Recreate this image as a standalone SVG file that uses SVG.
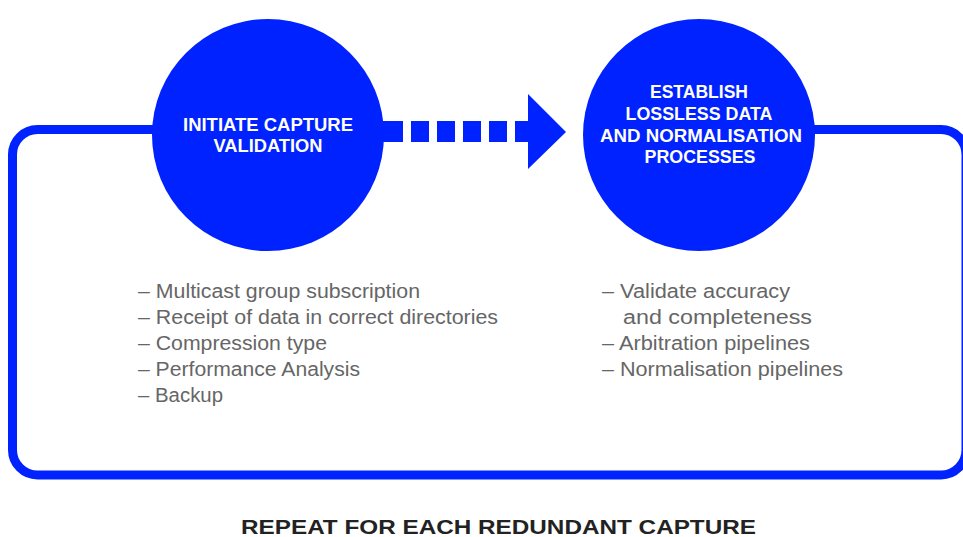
<svg xmlns="http://www.w3.org/2000/svg" width="963" height="537" viewBox="0 0 963 537">
<style>
.blue{fill:#0022ff}
.title{font-family:"Liberation Sans",Arial,sans-serif;font-weight:bold;font-size:17.5px;fill:#ffffff;text-anchor:middle}
.item{font-family:"Liberation Sans",Arial,sans-serif;font-size:19.5px;fill:#666666}
.foot{font-family:"Liberation Sans",Arial,sans-serif;font-weight:bold;font-size:20px;fill:#222222;text-anchor:middle}
</style>
<rect width="963" height="537" fill="#ffffff"/>
<g id="connectors">
<path id="loop" d="M 200 129.5 H 37.5 A 25 25 0 0 0 12.5 154.5 V 450 A 25 25 0 0 0 37.5 475 H 941 A 25 25 0 0 0 966 450 V 154.5 A 25 25 0 0 0 941 129.5 H 750" fill="none" stroke="#0022ff" stroke-width="9"/>
<g id="arrow" class="blue">
<rect x="370" y="121" width="33" height="21"/>
<rect x="411" y="121" width="18" height="21"/>
<rect x="437" y="121" width="18" height="21"/>
<rect x="463" y="121" width="18" height="21"/>
<rect x="489" y="121" width="18" height="21"/>
<polygon points="515,121 528,121 528,94 566,132 528,169 528,142 515,142"/>
</g>
</g>
<g id="node-initiate">
<circle cx="268" cy="135" r="116" class="blue"/>
<text class="title" x="268" y="131" textLength="170" lengthAdjust="spacingAndGlyphs">INITIATE CAPTURE</text>
<text class="title" x="268" y="152" textLength="109" lengthAdjust="spacingAndGlyphs">VALIDATION</text>
</g>
<g id="node-establish">
<circle cx="699" cy="135" r="116" class="blue"/>
<text class="title" x="699" y="98" textLength="98" lengthAdjust="spacingAndGlyphs">ESTABLISH</text>
<text class="title" x="699" y="120" textLength="147" lengthAdjust="spacingAndGlyphs">LOSSLESS DATA</text>
<text class="title" x="701" y="142" textLength="202" lengthAdjust="spacingAndGlyphs">AND NORMALISATION</text>
<text class="title" x="700" y="163" textLength="111" lengthAdjust="spacingAndGlyphs">PROCESSES</text>
</g>
<g id="list-initiate">
<text class="item" x="138" y="298" textLength="282" lengthAdjust="spacingAndGlyphs">– Multicast group subscription</text>
<text class="item" x="138" y="324" textLength="360" lengthAdjust="spacingAndGlyphs">– Receipt of data in correct directories</text>
<text class="item" x="138" y="350" textLength="189" lengthAdjust="spacingAndGlyphs">– Compression type</text>
<text class="item" x="138" y="376" textLength="222" lengthAdjust="spacingAndGlyphs">– Performance Analysis</text>
<text class="item" x="138" y="402" textLength="85" lengthAdjust="spacingAndGlyphs">– Backup</text>
</g>
<g id="list-establish">
<text class="item" x="602" y="298" textLength="188" lengthAdjust="spacingAndGlyphs">–  Validate accuracy</text>
<text class="item" x="623" y="324" textLength="189" lengthAdjust="spacingAndGlyphs">and completeness</text>
<text class="item" x="602" y="350" textLength="208" lengthAdjust="spacingAndGlyphs">– Arbitration pipelines</text>
<text class="item" x="602" y="376" textLength="241" lengthAdjust="spacingAndGlyphs">– Normalisation pipelines</text>
</g>
<g id="footer">
<text class="foot" x="498.5" y="534" textLength="515" lengthAdjust="spacingAndGlyphs">REPEAT FOR EACH REDUNDANT CAPTURE</text>
</g>
</svg>
